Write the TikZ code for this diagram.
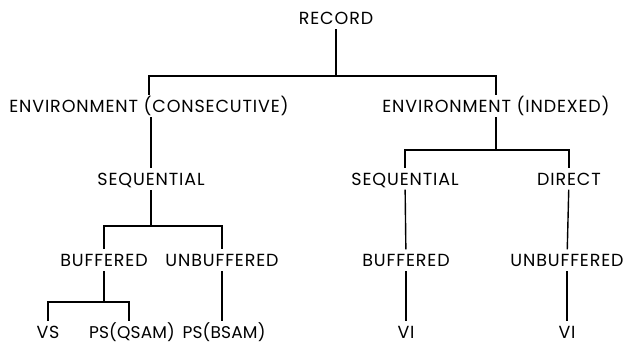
\documentclass[tikz,border=0pt]{standalone}
\usepackage{fontspec}
\setmainfont{Poppins}[LetterSpace=5]
\begin{document}
\begin{tikzpicture}[x=1pt,y=-1pt,
  lbl/.style={font=\fontsize{17.5}{17.5}\selectfont, inner sep=0pt, text height=12.5pt, text depth=0pt, outer ysep=5pt},
  tight/.style={lbl, font=\fontsize{17}{17}\selectfont\addfontfeature{LetterSpace=1}},
  conn/.style={line width=1.4pt, line cap=rect}]
\useasboundingbox (0,0) rectangle (623,343);
% row 1
\node[lbl] (rec) at (336,18) {RECORD};
% row 2
\node[lbl] (envc) at (149,106) {ENVIRONMENT (CONSECUTIVE)};
\node[lbl] (envi) at (496,106) {ENVIRONMENT (INDEXED)};
% row 3
\node[lbl] (seqc) at (151,179) {SEQUENTIAL};
\node[lbl] (seqi) at (405,179) {SEQUENTIAL};
\node[lbl] (dir) at (569,179) {DIRECT};
% row 4
\node[lbl] (bufc) at (104,260) {BUFFERED};
\node[lbl] (unbc) at (222,260) {UNBUFFERED};
\node[lbl] (bufi) at (406,260) {BUFFERED};
\node[lbl] (unbi) at (567,260) {UNBUFFERED};
% row 5
\node[lbl] (vs) at (48,332) {VS};
\node[tight] (psq) at (132,332) {PS(QSAM)};
\node[tight] (psb) at (224,332) {PS(BSAM)};
\node[lbl] (vi1) at (406,332) {VI};
\node[lbl] (vi2) at (567,332) {VI};
% junctions
\coordinate (j1) at (rec |- 0,76);
\coordinate (j2) at (envi |- 0,150);
\coordinate (j3) at (seqc |- 0,226);
\coordinate (j4) at (bufc |- 0,302);
% connectors
\draw[conn] (rec) -- (j1);
\draw[conn] (envc) |- (j1) -| (envi);
\draw[conn] (envi) -- (j2);
\draw[conn] (seqi) |- (j2) -| (dir);
\draw[conn] (envc.south -| seqc) -- (seqc);
\draw[conn] (seqc) -- (j3);
\draw[conn] (bufc) |- (j3) -| (unbc);
\draw[conn] (bufc) -- (j4);
\draw[conn] (vs) |- (j4) -| ([xshift=-3pt]psq.north);
\draw[conn] (unbc) -- (unbc |- psb.north);
\draw[conn] (seqi) -- (bufi);
\draw[conn] (bufi) -- (vi1);
\draw[conn] (dir) -- (unbi);
\draw[conn] (unbi) -- (vi2);
\end{tikzpicture}
\end{document}
